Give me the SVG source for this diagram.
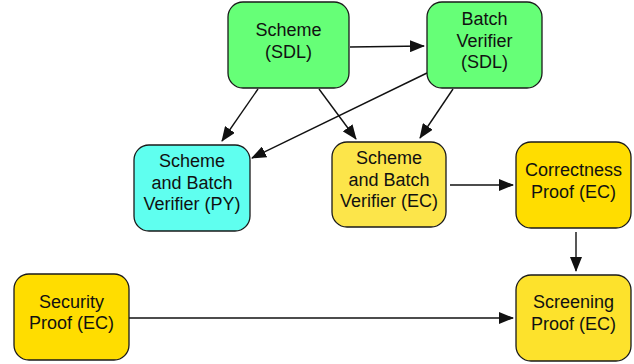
<svg xmlns="http://www.w3.org/2000/svg" width="634" height="364" viewBox="0 0 634 364">
<style>
.box{stroke:#1a1a1a;stroke-width:1.3}
.t{font-family:"Liberation Sans",Arial,Helvetica,sans-serif;font-size:18px;fill:#111;text-anchor:middle}
.e{stroke:#111;stroke-width:1.4;fill:none;marker-end:url(#ah)}
.green{fill:#66FF77}
.cyan{fill:#5FFFEF}
.lyel{fill:#FCE54A}
.gold{fill:#FFDD00}
.scr{fill:#FDE22C}
</style>
<defs>
<marker id="ah" viewBox="0 0 15 12" refX="14" refY="6" markerWidth="15" markerHeight="12" markerUnits="userSpaceOnUse" orient="auto">
<path d="M0,0 L15,6 L0,12 Z" fill="#111"/>
</marker>
</defs>
<rect width="634" height="364" fill="#fff"/>
<g id="edges">
<line class="e" x1="350" y1="47" x2="424" y2="46"/>
<line class="e" x1="258" y1="89" x2="222" y2="141"/>
<line class="e" x1="319" y1="89" x2="356" y2="139"/>
<line class="e" x1="427" y1="73" x2="252" y2="158"/>
<line class="e" x1="453" y1="89" x2="420" y2="138"/>
<line class="e" x1="450" y1="185" x2="513" y2="185"/>
<line class="e" x1="576" y1="232" x2="576" y2="271"/>
<line class="e" x1="129" y1="318" x2="513" y2="318"/>
</g>
<g id="scheme_sdl">
<rect class="box green" x="228" y="2" width="121" height="86" rx="15"/>
<text class="t" x="288.5" y="36">Scheme</text>
<text class="t" x="288.5" y="57.5">(SDL)</text>
</g>
<g id="batch_sdl">
<rect class="box green" x="427" y="2" width="115" height="86" rx="15"/>
<text class="t" x="484.5" y="25">Batch</text>
<text class="t" x="484.5" y="46.5">Verifier</text>
<text class="t" x="484.5" y="68">(SDL)</text>
</g>
<g id="sbv_py">
<rect class="box cyan" x="134" y="145" width="116" height="86" rx="15"/>
<text class="t" x="192" y="167">Scheme</text>
<text class="t" x="192" y="188.5">and Batch</text>
<text class="t" x="192" y="210">Verifier (PY)</text>
</g>
<g id="sbv_ec">
<rect class="box lyel" x="332" y="142" width="114" height="85" rx="15"/>
<text class="t" x="389" y="164">Scheme</text>
<text class="t" x="389" y="185.5">and Batch</text>
<text class="t" x="389" y="207">Verifier (EC)</text>
</g>
<g id="correctness">
<rect class="box gold" x="516" y="142" width="115" height="86" rx="15"/>
<text class="t" x="573.5" y="176">Correctness</text>
<text class="t" x="573.5" y="197.5">Proof (EC)</text>
</g>
<g id="screening">
<rect class="box scr" x="516" y="275" width="115" height="86" rx="15"/>
<text class="t" x="573.5" y="308">Screening</text>
<text class="t" x="573.5" y="329.5">Proof (EC)</text>
</g>
<g id="security">
<rect class="box gold" x="14" y="274" width="115" height="86" rx="15"/>
<text class="t" x="71.5" y="308">Security</text>
<text class="t" x="71.5" y="329">Proof (EC)</text>
</g>
</svg>
